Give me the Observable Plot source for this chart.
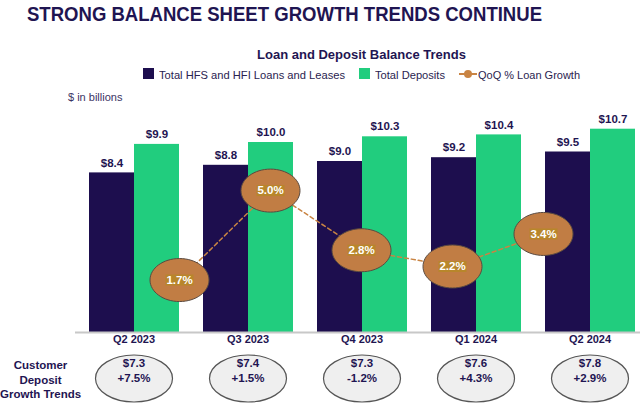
<!DOCTYPE html>
<html>
<head>
<meta charset="utf-8">
<script src="https://cdn.jsdelivr.net/npm/d3@7"></script>
<script src="https://cdn.jsdelivr.net/npm/@observablehq/plot@0.6"></script>
<style>
  html, body { margin: 0; padding: 0; background: #fff; }
  body { width: 640px; height: 406px; overflow: hidden; font-family: "Liberation Sans", Arial, sans-serif; }
  #wrap { position: relative; width: 640px; height: 406px; }
  .abs { position: absolute; white-space: nowrap; line-height: 1; }
  #title { left: 27px; top: 4.5px; font-size: 19.5px; font-weight: bold; color: #1f1552; transform-origin: left center; }
  #subtitle { left: 257px; top: 47.5px; font-size: 13px; font-weight: bold; color: #1f1552; transform-origin: left center; }
  .leg { top: 69.5px; font-size: 11.5px; color: #2a2350; transform-origin: left center; }
  .sw { position: absolute; top: 68px; width: 11px; height: 11px; }
  #unit { left: 68px; top: 91.5px; font-size: 11px; color: #3b3363; }
  #cdg { left: 0; top: 358px; width: 81px; text-align: center; font-size: 11.5px; font-weight: bold; color: #1f1552; line-height: 14.5px; }
  #base, #bars, #growth { position: absolute; left: 0; top: 86px; }
</style>
</head>
<body>
<div id="wrap">
  <div id="title" class="abs">STRONG BALANCE SHEET GROWTH TRENDS CONTINUE</div>
  <div id="subtitle" class="abs">Loan and Deposit Balance Trends</div>
  <div class="sw" style="left:143px;background:#1d0e4e"></div>
  <div id="leg1" class="abs leg" style="left:159px"></div>
  <div class="sw" style="left:359px;background:#21cd7e"></div>
  <div id="leg2" class="abs leg" style="left:375px"></div>
  <svg class="abs" style="left:459px;top:68px" width="18" height="12"><line x1="0" y1="6" x2="18" y2="6" stroke="#c98443" stroke-width="2"/><circle cx="9" cy="6" r="4" fill="#c98443"/></svg>
  <div id="leg3" class="abs leg" style="left:478px"></div>
  <div id="unit" class="abs">$ in billions</div>
  <div id="cdg" class="abs">Customer<br>Deposit<br>Growth Trends</div>
  <div id="bars"></div>
  <div id="base"></div>
  <div id="growth"></div>
</div>
<script>
// ---- data ----
const quarters = ["Q2 2023", "Q3 2023", "Q4 2023", "Q1 2024", "Q2 2024"];
const seriesNames = ["Total HFS and HFI Loans and Leases", "Total Deposits"];
const loans = [8.4, 8.8, 9.0, 9.2, 9.5];
const deposits = [9.9, 10.0, 10.3, 10.4, 10.7];
const lineName = "QoQ % Loan Growth";
const loanGrowth = [1.7, 5.0, 2.8, 2.2, 3.4];
const customerDeposits = [7.3, 7.4, 7.3, 7.6, 7.8];
const customerGrowth = [7.5, 1.5, -1.2, 4.3, 2.9];

// ---- colours / style ----
const NAVY = "#1d0e4e", GREEN = "#21cd7e", TEXT = "#1f1552";
const ORANGE = "#c17d44", LINE = "#c98443", HILITE = "#b8862b";
const FONT = "Liberation Sans, Arial, sans-serif";

document.getElementById("leg1").textContent = seriesNames[0];
document.getElementById("leg2").textContent = seriesNames[1];
document.getElementById("leg3").textContent = lineName;

function fitWidth(id, target) {
  const el = document.getElementById(id);
  const w = el.getBoundingClientRect().width;
  if (w > 0) el.style.transform = `scaleX(${target / w})`;
}
fitWidth("title", 515);
fitWidth("subtitle", 209);
fitWidth("leg1", 186);
fitWidth("leg2", 70);
fitWidth("leg3", 102);

// custom symbols
function ellipse(rx, ry) {
  const k = 0.5523;
  return { draw(ctx) {
    ctx.moveTo(rx, 0);
    ctx.bezierCurveTo(rx, ry * k, rx * k, ry, 0, ry);
    ctx.bezierCurveTo(-rx * k, ry, -rx, ry * k, -rx, 0);
    ctx.bezierCurveTo(-rx, -ry * k, -rx * k, -ry, 0, -ry);
    ctx.bezierCurveTo(rx * k, -ry, rx, -ry * k, rx, 0);
    ctx.closePath();
  }};
}
function box(w, h) { return { draw(ctx) { ctx.rect(-w / 2, -h / 2, w, h); } }; }

// ---- tables ----
const barRows = quarters.flatMap((q, i) => [
  { quarter: q, series: seriesNames[0], value: loans[i] },
  { quarter: q, series: seriesNames[1], value: deposits[i] }
]);
const qRows = quarters.map((q, i) => ({
  quarter: q,
  growth: loanGrowth[i],
  cust: customerDeposits[i],
  custGrowth: customerGrowth[i]
}));

const W = 640, H = 320, MB = 74;
const yDollar = [0, (H - MB) / 19];
const common = {
  width: W, height: H,
  marginTop: 0, marginBottom: MB, marginLeft: 75, marginRight: 0,
  style: { fontFamily: FONT, background: "transparent", overflow: "visible" }
};

const bars = Plot.plot({
  ...common,
  fx: { domain: quarters, range: [87, 635], paddingInner: 0.203, paddingOuter: 0, axis: null },
  x: { domain: seriesNames, padding: 0, axis: null },
  y: { domain: yDollar, axis: null },
  color: { domain: seriesNames, range: [NAVY, GREEN] },
  marks: [
    Plot.barY(barRows, { fx: "quarter", x: "series", y: "value", fill: "series" }),
    Plot.text(barRows, {
      fx: "quarter", x: "series", y: "value",
      text: d => "$" + d.value.toFixed(1),
      dy: -10, fill: TEXT, fontWeight: "bold", fontSize: 11.5
    }),
    Plot.text(qRows, {
      fx: "quarter", text: "quarter", frameAnchor: "bottom",
      dy: 10.5, fill: TEXT, fontWeight: "bold", fontSize: 11
    }),
    Plot.dot(qRows, {
      fx: "quarter", frameAnchor: "bottom", dy: 46,
      symbol: ellipse(38.5, 23.5), fill: "#efefef", stroke: "#555", strokeWidth: 1.2
    }),
    Plot.text(qRows, {
      fx: "quarter", frameAnchor: "bottom", dy: 49, lineHeight: 1.22,
      text: d => "$" + d.cust.toFixed(1) + "\n" + (d.custGrowth >= 0 ? "+" : "") + d.custGrowth.toFixed(1) + "%",
      fill: TEXT, fontWeight: "bold", fontSize: 11.5
    })
  ]
});
document.getElementById("bars").append(bars);

// baseline drawn over the bar bottoms
const base = Plot.plot({
  ...common,
  x: { axis: null },
  y: { domain: yDollar, axis: null },
  marks: [Plot.ruleY([0], { stroke: "#c8c8c8", strokeWidth: 2 })]
});
document.getElementById("base").append(base);

const growth = Plot.plot({
  ...common,
  x: { type: "point", domain: quarters, range: [132.5, 589.5], axis: null },
  y: { domain: [-0.236, 8.841], axis: null },
  marks: [
    Plot.line(qRows, { x: "quarter", y: "growth", stroke: LINE, strokeWidth: 1.5, strokeDasharray: "4,3" }),
    Plot.dot(qRows, { x: "quarter", y: "growth", symbol: ellipse(29.5, 21.5), fill: ORANGE, stroke: "#5a4a40", strokeWidth: 1 }),
    Plot.dot(qRows, { x: "quarter", y: "growth", symbol: box(28, 11), fill: HILITE, stroke: "none" }),
    Plot.text(qRows, { x: "quarter", y: "growth", text: d => d.growth.toFixed(1) + "%", fill: "white", fontWeight: "bold", fontSize: 11.5 })
  ]
});
document.getElementById("growth").append(growth);
</script>
</body>
</html>
